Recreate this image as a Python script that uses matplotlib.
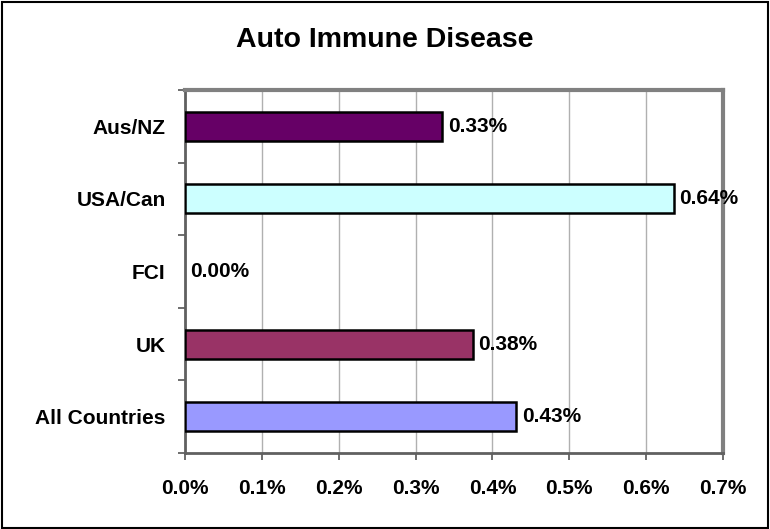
import matplotlib.pyplot as plt
from matplotlib.patches import Rectangle

plt.rcParams['font.family'] = ['Liberation Sans', 'DejaVu Sans']

categories = ['All Countries', 'UK', 'FCI', 'USA/Can', 'Aus/NZ']
values = [0.431, 0.375, 0.0, 0.636, 0.335]
labels = ['0.43%', '0.38%', '0.00%', '0.64%', '0.33%']
colors = ['#9999FF', '#993366', '#FFFFCC', '#CCFFFF', '#660066']
xticks = [0.0, 0.1, 0.2, 0.3, 0.4, 0.5, 0.6, 0.7]

fig = plt.figure(figsize=(7.7, 5.29), dpi=100)
ax = fig.add_axes([185/770, 1 - 453/529, (723 - 185)/770, (453 - 90)/529])

pos = range(len(categories))
bars = ax.barh(pos, values, height=0.4, color=colors, edgecolor='black',
               linewidth=1.8, zorder=3)
for b, v, lab in zip(bars, values, labels):
    if v == 0:
        b.set_linewidth(0)
    ax.text(v + 0.007, b.get_y() + b.get_height()/2, lab, ha='left', va='center',
            fontsize=15, fontweight='bold', zorder=4)

ax.set_xlim(0, 0.7)
ax.set_ylim(-0.5, len(categories) - 0.5)
ax.set_xticks(xticks)
ax.set_xticklabels(['%.1f%%' % t for t in xticks], fontsize=15, fontweight='bold')
ax.set_yticks(list(pos))
ax.set_yticklabels(categories, fontsize=15, fontweight='bold')
ax.set_yticks([i - 0.5 for i in range(len(categories) + 1)], minor=True)
ax.tick_params(axis='y', which='major', length=0, pad=14)
ax.tick_params(axis='y', which='minor', length=5, width=1.2, color='#555555')
ax.tick_params(axis='x', length=5, width=1.2, color='#555555', pad=14)
ax.grid(axis='x', color='#B0B0B0', linewidth=1, zorder=0)

for s in ['top', 'right']:
    ax.spines[s].set_color('#808080')
    ax.spines[s].set_linewidth(3)
for s in ['left', 'bottom']:
    ax.spines[s].set_color('#606060')
    ax.spines[s].set_linewidth(2)

fig.text(0.5, 1 - 40/529, 'Auto Immune Disease', ha='center', va='center',
         fontsize=20.5, fontweight='bold')

fig.patches.append(Rectangle((0.002, 0.002), 0.995, 0.995, transform=fig.transFigure,
                             fill=False, edgecolor='black', linewidth=1.5))

fig.savefig('out.png', dpi=100)
